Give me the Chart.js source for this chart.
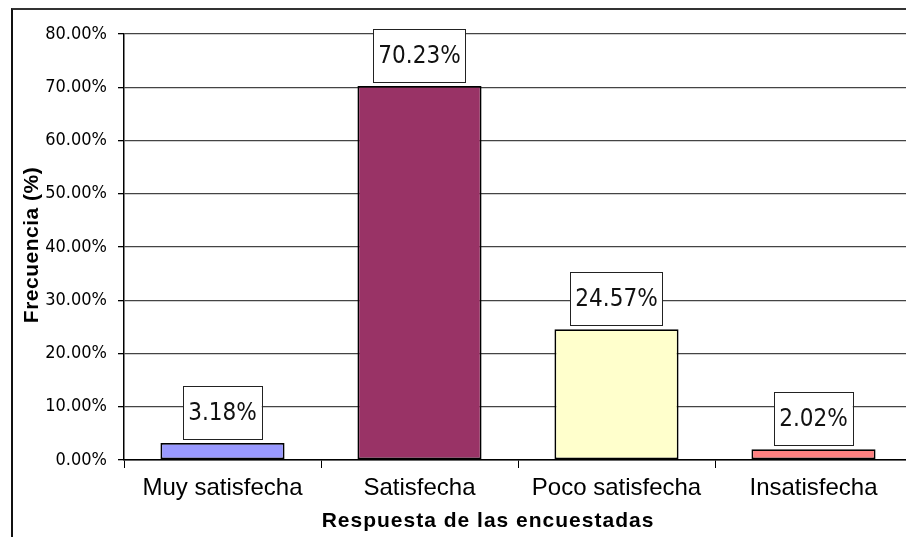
<!DOCTYPE html>
<html>
<head>
<meta charset="utf-8">
<script src="https://cdn.jsdelivr.net/npm/chart.js@4.4.1/dist/chart.umd.min.js"></script>
<style>
    html, body { margin: 0; padding: 0; background: #fff; overflow: hidden; }
    #wrap { position: relative; width: 906px; height: 537px; overflow: hidden; }
    #frame { position: absolute; left: 11px; top: 8px; width: 900px; height: 540px;
             border-top: 2px solid #333; border-left: 2px solid #111; }
    #myChart { position: absolute; left: 0; top: 0; }
</style>
</head>
<body>
<div id="wrap">
    <div id="frame"></div>
    <canvas id="myChart" width="920" height="537"></canvas>
</div>
<script>
var categorias = ['Muy satisfecha', 'Satisfecha', 'Poco satisfecha', 'Insatisfecha'];
var frecuencias = [3.18, 70.23, 24.57, 2.02];
var colores = ['#9999FF', '#993366', '#FFFFCC', '#FF8080'];
var tituloX = 'Respuesta de las encuestadas';
var tituloY = 'Frecuencia (%)';

var narrow = '"Liberation Sans Narrow", "Arial Narrow", "DejaVu Sans Condensed", sans-serif';
var normal = '"Liberation Sans", Arial, sans-serif';

// etiquetas con recuadro encima de cada barra y titulos de los ejes
var etiquetas = {
    id: 'etiquetas',
    afterDatasetsDraw: function (chart) {
        var ctx = chart.ctx;
        var meta = chart.getDatasetMeta(0);
        ctx.save();
        ctx.font = '24px ' + narrow;
        ctx.textAlign = 'center';
        ctx.textBaseline = 'middle';
        meta.data.forEach(function (bar, i) {
            var texto = frecuencias[i].toFixed(2) + '%';
            var w = ctx.measureText(texto).width + 10;
            var h = 53;
            var x = bar.x - w / 2;
            var y = bar.y - 4 - h;
            ctx.fillStyle = '#fff';
            ctx.fillRect(x, y, w, h);
            ctx.strokeStyle = '#222';
            ctx.lineWidth = 1;
            ctx.strokeRect(Math.round(x) + 0.5, Math.round(y) + 0.5, Math.round(w), Math.round(h));
            ctx.fillStyle = '#111';
            ctx.fillText(texto, bar.x, y + h / 2 + 1);
        });
        ctx.restore();
    },
    afterDraw: function (chart) {
        var ctx = chart.ctx;
        ctx.save();
        ctx.fillStyle = '#000';
        ctx.textAlign = 'center';
        ctx.textBaseline = 'middle';
        ctx.font = 'bold 21px ' + normal;
        ctx.letterSpacing = '1px';
        ctx.fillText(tituloX, 488, 521);
        ctx.letterSpacing = '0.5px';
        ctx.translate(32, 245);
        ctx.rotate(-Math.PI / 2);
        ctx.fillText(tituloY, 0, 0);
        ctx.restore();
    }
};

const ctx = document.getElementById('myChart');
var chart = new Chart(ctx, {
    type: 'bar',
    data: {
        labels: categorias,
        datasets: [{
            data: frecuencias,
            backgroundColor: colores,
            borderColor: '#000',
            borderWidth: 1.8,
            borderSkipped: false,
            categoryPercentage: 1,
            barPercentage: 0.63
        }]
    },
    options: {
        responsive: false,
        animation: false,
        devicePixelRatio: 1,
        layout: { padding: { left: 0, top: 34, right: 8, bottom: 0 } },
        plugins: {
            legend: { display: false },
            tooltip: { enabled: false }
        },
        scales: {
            x: {
                offset: true,
                afterFit: function (scale) { scale.height = 77; },
                border: { color: '#000', width: 1.5 },
                grid: { drawOnChartArea: false, drawTicks: true, tickLength: 8, color: '#000', offset: true },
                ticks: { color: '#000', font: { family: normal, size: 24 }, padding: 6, maxRotation: 0 }
            },
            y: {
                min: 0,
                max: 80,
                afterFit: function (scale) { scale.width = 124; },
                border: { color: '#000', width: 1.5 },
                grid: { color: '#444', lineWidth: 1.3, tickLength: 6, tickColor: '#000' },
                ticks: {
                    stepSize: 10,
                    color: '#000',
                    padding: 11,
                    font: { family: narrow, size: 18 },
                    callback: function (v) { return v.toFixed(2) + '%'; }
                }
            }
        }
    },
    plugins: [etiquetas]
});
</script>
</body>
</html>
